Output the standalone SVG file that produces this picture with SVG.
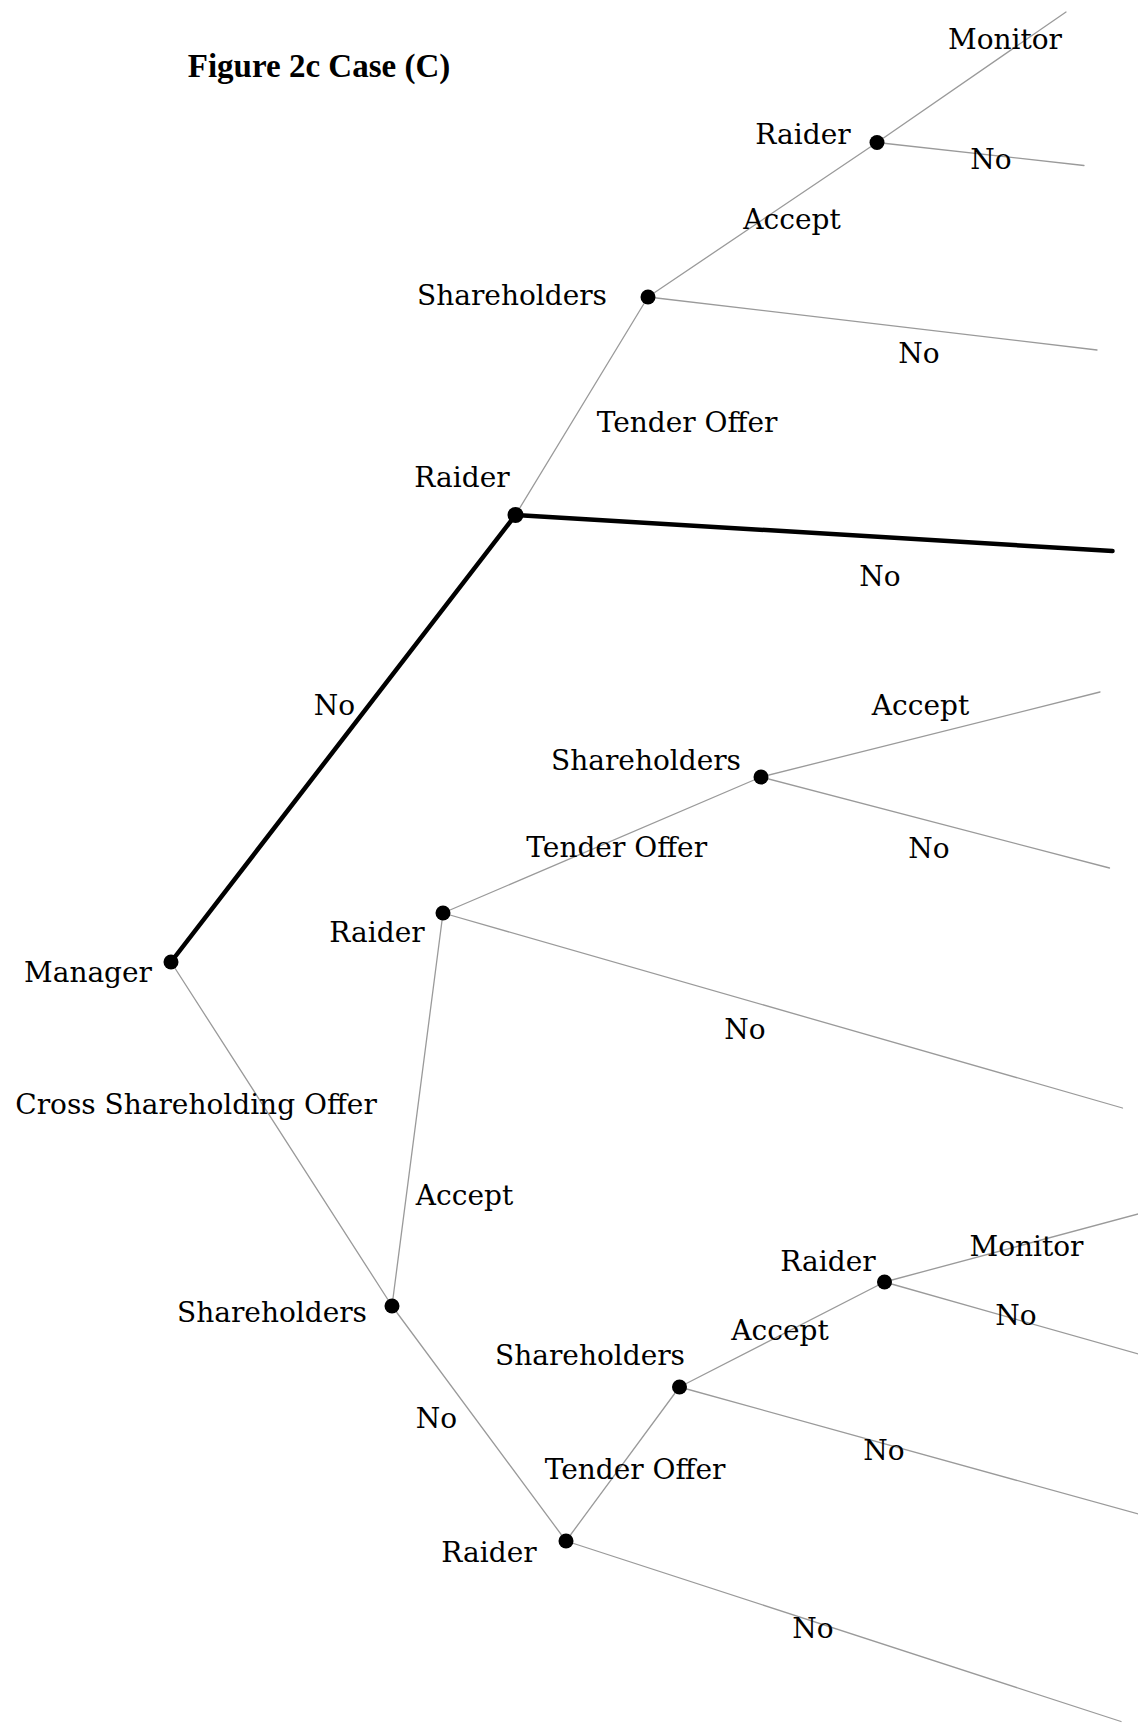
<svg xmlns="http://www.w3.org/2000/svg" width="1138" height="1724" viewBox="0 0 1138 1724">
<style>
  .bg { fill: #ffffff; }
  .edge { stroke: #9a9a9a; stroke-width: 1.3; fill: none; stroke-linecap: round; }
  .bold-edge { stroke: #000000; stroke-width: 4.5; fill: none; stroke-linecap: round; }
  .dot { fill: #000000; }
  .lbl { font-family: "DejaVu Serif", "Liberation Serif", serif; font-size: 28px; fill: #000000; text-anchor: middle; }
  .title { font-family: "Liberation Serif", "DejaVu Serif", serif; font-size: 33px; font-weight: bold; fill: #000000; text-anchor: middle; }
</style>
<rect class="bg" x="0" y="0" width="1138" height="1724"/>

<g id="connectors">
  <line class="bold-edge" x1="171" y1="962" x2="515.5" y2="515"/>
  <line class="edge" x1="171" y1="962" x2="392" y2="1306"/>
  <line class="bold-edge" x1="515.5" y1="515" x2="1112.5" y2="551"/>
  <line class="edge" x1="515.5" y1="515" x2="648" y2="297"/>
  <line class="edge" x1="648" y1="297" x2="877" y2="142.5"/>
  <line class="edge" x1="648" y1="297" x2="1097" y2="350"/>
  <line class="edge" x1="877" y1="142.5" x2="1066" y2="12"/>
  <line class="edge" x1="877" y1="142.5" x2="1084" y2="165.5"/>
  <line class="edge" x1="392" y1="1306" x2="443" y2="913"/>
  <line class="edge" x1="392" y1="1306" x2="566" y2="1541"/>
  <line class="edge" x1="443" y1="913" x2="761" y2="777"/>
  <line class="edge" x1="443" y1="913" x2="1122.5" y2="1108"/>
  <line class="edge" x1="761" y1="777" x2="1100" y2="692"/>
  <line class="edge" x1="761" y1="777" x2="1109.5" y2="868"/>
  <line class="edge" x1="566" y1="1541" x2="679.5" y2="1387"/>
  <line class="edge" x1="566" y1="1541" x2="1121" y2="1721.5"/>
  <line class="edge" x1="679.5" y1="1387" x2="884.5" y2="1282"/>
  <line class="edge" x1="679.5" y1="1387" x2="1140" y2="1514.5"/>
  <line class="edge" x1="884.5" y1="1282" x2="1140" y2="1213.5"/>
  <line class="edge" x1="884.5" y1="1282" x2="1140" y2="1354.5"/>
</g>

<g id="edge-labels">
  <text class="lbl" x="1005" y="49">Monitor</text>
  <text class="lbl" x="991" y="169">No</text>
  <text class="lbl" x="792" y="229">Accept</text>
  <text class="lbl" x="919" y="363">No</text>
  <text class="lbl" x="687" y="432">Tender Offer</text>
  <text class="lbl" x="880" y="586">No</text>
  <text class="lbl" x="334.5" y="715">No</text>
  <text class="lbl" x="920.5" y="715">Accept</text>
  <text class="lbl" x="616.7" y="857">Tender Offer</text>
  <text class="lbl" x="929" y="858">No</text>
  <text class="lbl" x="745" y="1039">No</text>
  <text class="lbl" x="196" y="1114">Cross Shareholding Offer</text>
  <text class="lbl" x="464.5" y="1205">Accept</text>
  <text class="lbl" x="436.4" y="1428">No</text>
  <text class="lbl" x="635" y="1479">Tender Offer</text>
  <text class="lbl" x="780" y="1340">Accept</text>
  <text class="lbl" x="1026.5" y="1256">Monitor</text>
  <text class="lbl" x="1016" y="1325">No</text>
  <text class="lbl" x="884" y="1460">No</text>
  <text class="lbl" x="813" y="1638">No</text>
</g>

<text id="title" class="title" x="319" y="77">Figure 2c Case (C)</text>

<g id="node-manager">
  <circle class="dot" cx="171" cy="962" r="7.5"/>
  <text class="lbl" x="88" y="982">Manager</text>
</g>
<g id="node-raider-1">
  <circle class="dot" cx="515.5" cy="515" r="8"/>
  <text class="lbl" x="462" y="487">Raider</text>
</g>
<g id="node-shareholders-1">
  <circle class="dot" cx="648" cy="297" r="7.5"/>
  <text class="lbl" x="512" y="305">Shareholders</text>
</g>
<g id="node-raider-2">
  <circle class="dot" cx="877" cy="142.5" r="7.5"/>
  <text class="lbl" x="803" y="144">Raider</text>
</g>
<g id="node-shareholders-2">
  <circle class="dot" cx="392" cy="1306" r="7.5"/>
  <text class="lbl" x="272" y="1322">Shareholders</text>
</g>
<g id="node-raider-3">
  <circle class="dot" cx="443" cy="913" r="7.5"/>
  <text class="lbl" x="377" y="942">Raider</text>
</g>
<g id="node-shareholders-3">
  <circle class="dot" cx="761" cy="777" r="7.5"/>
  <text class="lbl" x="646" y="770">Shareholders</text>
</g>
<g id="node-raider-4">
  <circle class="dot" cx="566" cy="1541" r="7.5"/>
  <text class="lbl" x="489" y="1562">Raider</text>
</g>
<g id="node-shareholders-4">
  <circle class="dot" cx="679.5" cy="1387" r="7.5"/>
  <text class="lbl" x="590" y="1365">Shareholders</text>
</g>
<g id="node-raider-5">
  <circle class="dot" cx="884.5" cy="1282" r="7.5"/>
  <text class="lbl" x="828" y="1271">Raider</text>
</g>
</svg>
